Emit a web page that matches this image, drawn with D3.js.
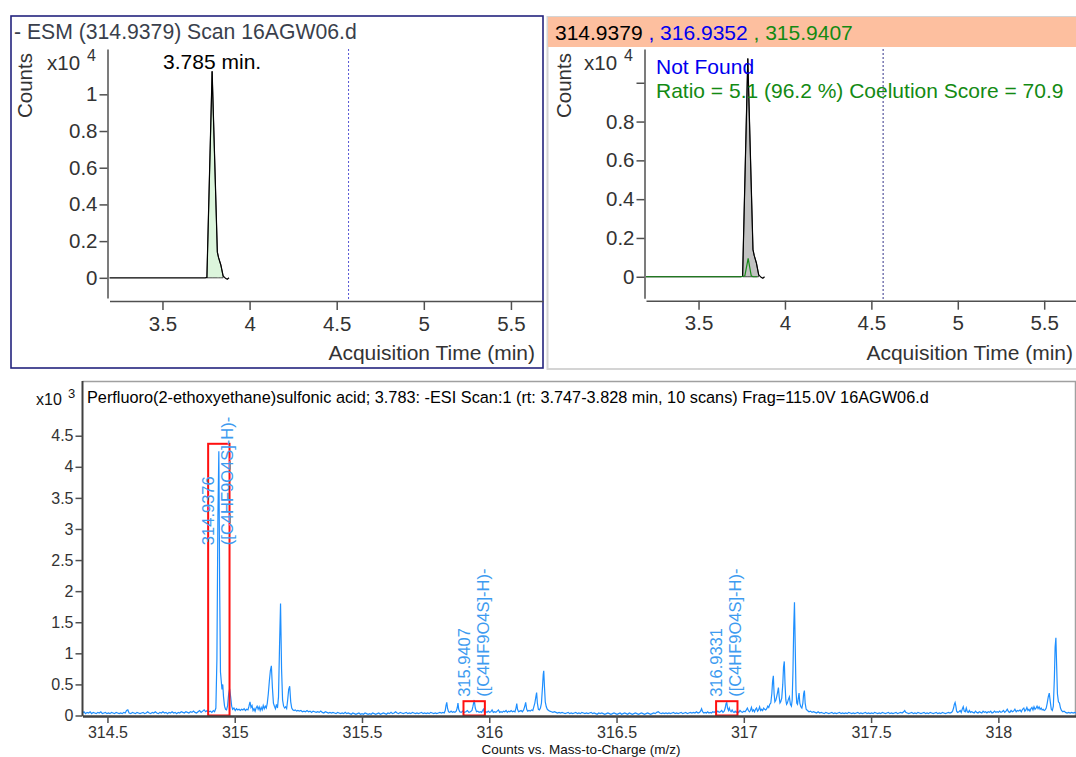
<!DOCTYPE html>
<html>
<head>
<meta charset="utf-8">
<script src="https://cdn.jsdelivr.net/npm/d3@7"></script>
<style>
  body { margin: 0; background: #fff; }
  svg { display: block; }
  text { font-family: "Liberation Sans", Arial, sans-serif; }
  .axis path, .axis line { stroke: #505050; stroke-width: 1.5; }
  .axis text { fill: #333; }
</style>
</head>
<body>
<svg id="main"></svg>
<script>
// chromatogram of target ion 314.9379 (counts x10^4)
var eicTime   = [3.196, 3.40, 3.60, 3.745, 3.755, 3.785, 3.815, 3.822, 3.835, 3.848, 3.862, 3.872, 3.882];
var eicCounts = [0,     0,    0,    0,     0.002, 1.125, 0.14,  0.11,  0.07,  0.01,  -0.003, -0.008, 0];
// qualifier 315.9407 trace (green)
var qualTime   = [3.196, 3.50, 3.745, 3.768, 3.787, 3.805, 3.815, 3.84];
var qualCounts = [0,     0,    0,     0.005, 0.095, 0.005, 0,     0];
var integStart = 3.752, integEnd = 3.849, rtMark = 4.568;
var timeTicks = [3.5, 4, 4.5, 5, 5.5];
var countTicks = [0, 0.2, 0.4, 0.6, 0.8, 1];

// spectrum: [m/z, counts x10^3]
var spectrum = [
[314.402,.04],[314.408,.06],[314.414,.03],[314.420,.05],[314.426,.04],[314.432,.06],[314.438,.03],[314.444,.05],
[314.450,.04],[314.456,.03],[314.462,.05],[314.468,.04],[314.474,.06],[314.480,.03],[314.486,.04],[314.492,.05],
[314.498,.03],[314.504,.04],[314.510,.03],[314.516,.05],[314.522,.04],[314.528,.03],[314.534,.05],[314.540,.04],
[314.546,.03],[314.552,.04],[314.558,.03],[314.564,.05],[314.570,.04],[314.575,.08],[314.580,.09],[314.585,.04],
[314.592,.03],[314.598,.05],[314.604,.04],[314.610,.03],[314.616,.05],[314.622,.04],[314.628,.03],[314.634,.04],
[314.640,.05],[314.646,.03],[314.652,.04],[314.658,.06],[314.664,.04],[314.670,.03],[314.676,.05],[314.682,.04],
[314.688,.06],[314.694,.04],[314.700,.03],[314.706,.05],[314.712,.04],[314.718,.06],[314.724,.04],[314.730,.05],
[314.736,.03],[314.742,.05],[314.748,.04],[314.754,.06],[314.760,.04],[314.766,.05],[314.772,.03],[314.778,.05],
[314.784,.04],[314.790,.06],[314.796,.05],[314.802,.04],[314.808,.06],[314.814,.05],[314.820,.04],[314.826,.06],
[314.832,.05],[314.838,.07],[314.844,.05],[314.850,.04],[314.856,.06],[314.862,.08],[314.868,.05],[314.874,.07],
[314.880,.09],[314.886,.06],[314.892,.08],[314.898,.06],[314.904,.07],[314.910,.05],[314.916,.08],[314.921,.06],
[314.926,.12],[314.930,.9],[314.934,3.2],[314.9376,4.25],[314.941,2.0],[314.944,.7],[314.947,.56],[314.950,.42],
[314.953,.5],[314.956,.3],[314.960,.15],[314.964,.1],[314.968,.09],[314.972,.16],[314.976,.34],[314.980,.43],
[314.984,.3],[314.988,.15],[314.992,.1],[314.997,.12],[315.002,.08],[315.007,.11],[315.012,.09],[315.017,.1],
[315.022,.08],[315.027,.1],[315.032,.09],[315.037,.11],[315.042,.08],[315.047,.1],[315.052,.09],[315.056,.15],
[315.060,.22],[315.064,.13],[315.068,.16],[315.072,.08],[315.076,.11],[315.080,.07],[315.084,.12],[315.088,.15],
[315.092,.1],[315.096,.14],[315.100,.08],[315.104,.13],[315.108,.09],[315.112,.16],[315.116,.11],[315.120,.15],
[315.124,.12],[315.128,.2],[315.132,.35],[315.136,.55],[315.140,.72],[315.144,.8],[315.148,.45],[315.152,.2],
[315.156,.15],[315.160,.11],[315.164,.18],[315.168,.12],[315.172,.3],[315.176,1.1],[315.180,1.8],[315.184,.75],
[315.188,.25],[315.192,.15],[315.196,.12],[315.200,.14],[315.204,.11],[315.208,.25],[315.212,.42],[315.216,.47],
[315.220,.22],[315.224,.12],[315.228,.09],[315.233,.08],[315.238,.09],[315.243,.07],[315.248,.08],[315.254,.07],
[315.260,.08],[315.266,.06],[315.272,.07],[315.278,.06],[315.284,.08],[315.290,.06],[315.296,.07],[315.302,.05],
[315.308,.07],[315.314,.06],[315.320,.05],[315.326,.06],[315.332,.05],[315.338,.07],[315.344,.05],[315.350,.04],
[315.356,.06],[315.362,.05],[315.368,.04],[315.374,.05],[315.380,.04],[315.386,.05],[315.392,.04],[315.398,.03],
[315.404,.05],[315.410,.04],[315.416,.03],[315.422,.04],[315.428,.03],[315.434,.05],[315.440,.03],[315.446,.04],
[315.452,.03],[315.458,.02],[315.464,.04],[315.470,.03],[315.476,.02],[315.482,.03],[315.488,.04],[315.494,.02],
[315.500,.03],[315.506,.02],[315.512,.04],[315.518,.03],[315.524,.02],[315.530,.03],[315.536,.02],[315.542,.04],
[315.548,.03],[315.554,.02],[315.560,.03],[315.566,.04],[315.572,.02],[315.578,.03],[315.584,.04],[315.590,.03],
[315.596,.02],[315.602,.04],[315.608,.03],[315.614,.05],[315.620,.03],[315.626,.04],[315.632,.06],[315.638,.04],
[315.644,.03],[315.650,.05],[315.656,.04],[315.662,.03],[315.668,.04],[315.674,.05],[315.680,.03],[315.686,.04],
[315.692,.03],[315.698,.05],[315.704,.04],[315.710,.03],[315.716,.04],[315.722,.03],[315.728,.04],[315.734,.05],
[315.740,.03],[315.746,.04],[315.752,.03],[315.758,.04],[315.764,.03],[315.770,.05],[315.776,.04],[315.782,.03],
[315.788,.04],[315.794,.03],[315.800,.04],[315.806,.05],[315.812,.04],[315.818,.05],[315.823,.04],[315.827,.08],
[315.830,.16],[315.833,.21],[315.836,.12],[315.840,.06],[315.845,.05],[315.850,.07],[315.855,.05],[315.860,.06],
[315.865,.05],[315.870,.07],[315.874,.12],[315.877,.2],[315.880,.1],[315.884,.06],[315.890,.05],[315.896,.07],
[315.902,.05],[315.908,.06],[315.914,.08],[315.920,.05],[315.926,.06],[315.932,.08],[315.936,.15],[315.941,.25],
[315.945,.12],[315.950,.06],[315.955,.07],[315.960,.05],[315.965,.06],[315.970,.05],[315.974,.08],[315.977,.1],
[315.981,.05],[315.986,.06],[315.991,.05],[315.996,.07],[316.001,.05],[316.006,.06],[316.011,.09],[316.016,.05],
[316.021,.06],[316.026,.05],[316.031,.07],[316.036,.09],[316.041,.05],[316.046,.06],[316.051,.05],[316.056,.07],
[316.061,.06],[316.066,.08],[316.071,.05],[316.076,.07],[316.081,.06],[316.086,.08],[316.091,.06],[316.096,.07],
[316.101,.06],[316.105,.12],[316.108,.19],[316.111,.1],[316.115,.06],[316.120,.07],[316.125,.08],[316.130,.06],
[316.135,.09],[316.139,.14],[316.143,.21],[316.147,.1],[316.151,.07],[316.156,.08],[316.161,.07],[316.166,.09],
[316.171,.08],[316.175,.14],[316.179,.2],[316.183,.3],[316.186,.37],[316.189,.2],[316.193,.1],[316.197,.09],
[316.201,.12],[316.205,.2],[316.209,.45],[316.212,.66],[316.214,.72],[316.217,.45],[316.220,.22],[316.224,.14],
[316.228,.1],[316.233,.08],[316.238,.07],[316.244,.06],[316.250,.05],[316.256,.06],[316.262,.05],[316.268,.04],
[316.274,.05],[316.280,.04],[316.286,.05],[316.292,.04],[316.298,.03],[316.304,.04],[316.310,.05],[316.316,.03],
[316.322,.04],[316.328,.03],[316.334,.04],[316.340,.05],[316.346,.03],[316.352,.04],[316.358,.03],[316.364,.05],
[316.370,.04],[316.376,.03],[316.382,.04],[316.388,.03],[316.394,.04],[316.400,.05],[316.406,.03],[316.412,.04],
[316.418,.03],[316.424,.02],[316.430,.04],[316.436,.03],[316.442,.04],[316.448,.03],[316.454,.02],[316.460,.03],
[316.466,.04],[316.472,.03],[316.478,.02],[316.484,.03],[316.490,.04],[316.496,.03],[316.502,.02],[316.508,.03],
[316.514,.04],[316.520,.02],[316.526,.03],[316.532,.04],[316.538,.03],[316.544,.02],[316.550,.04],[316.556,.03],
[316.562,.02],[316.568,.03],[316.574,.04],[316.580,.03],[316.586,.02],[316.592,.03],[316.598,.04],[316.604,.03],
[316.610,.02],[316.616,.03],[316.622,.04],[316.628,.03],[316.634,.02],[316.640,.03],[316.646,.04],[316.652,.03],
[316.658,.05],[316.664,.06],[316.670,.04],[316.676,.03],[316.682,.04],[316.688,.03],[316.694,.04],[316.700,.03],
[316.706,.04],[316.712,.03],[316.718,.04],[316.724,.05],[316.730,.03],[316.736,.04],[316.742,.03],[316.748,.04],
[316.754,.05],[316.760,.03],[316.766,.04],[316.772,.05],[316.778,.03],[316.784,.04],[316.790,.05],[316.796,.04],
[316.802,.05],[316.808,.04],[316.814,.06],[316.820,.04],[316.826,.05],[316.830,.07],[316.834,.11],[316.838,.06],
[316.843,.04],[316.848,.05],[316.853,.04],[316.858,.06],[316.863,.04],[316.868,.05],[316.873,.04],[316.878,.06],
[316.883,.05],[316.888,.06],[316.893,.05],[316.898,.07],[316.903,.05],[316.908,.06],[316.913,.08],[316.918,.05],
[316.923,.07],[316.927,.12],[316.930,.19],[316.933,.21],[316.936,.12],[316.940,.08],[316.943,.12],[316.946,.08],
[316.950,.06],[316.954,.09],[316.958,.06],[316.962,.05],[316.966,.07],[316.970,.05],[316.975,.06],[316.980,.05],
[316.985,.08],[316.990,.06],[316.995,.05],[317.000,.07],[317.005,.06],[317.010,.09],[317.014,.12],[317.018,.08],
[317.022,.06],[317.026,.08],[317.030,.13],[317.034,.07],[317.038,.09],[317.042,.06],[317.046,.1],[317.050,.12],
[317.054,.07],[317.058,.09],[317.062,.14],[317.066,.08],[317.070,.1],[317.074,.08],[317.078,.12],[317.082,.1],
[317.086,.09],[317.090,.11],[317.094,.15],[317.098,.13],[317.102,.18],[317.106,.2],[317.110,.35],[317.113,.55],
[317.116,.64],[317.119,.35],[317.122,.22],[317.126,.25],[317.129,.3],[317.133,.38],[317.136,.45],[317.139,.3],
[317.142,.2],[317.145,.22],[317.149,.28],[317.153,.5],[317.156,.78],[317.159,.87],[317.162,.5],[317.165,.25],
[317.168,.18],[317.171,.2],[317.175,.26],[317.179,.3],[317.183,.18],[317.187,.15],[317.190,.25],[317.193,.7],
[317.196,1.4],[317.199,1.82],[317.202,1.1],[317.205,.4],[317.208,.2],[317.211,.18],[317.214,.28],[317.217,.36],
[317.220,.2],[317.224,.14],[317.228,.12],[317.232,.2],[317.235,.35],[317.238,.4],[317.241,.2],[317.245,.1],
[317.250,.08],[317.256,.06],[317.262,.07],[317.268,.05],[317.274,.06],[317.280,.05],[317.286,.04],[317.292,.06],
[317.298,.04],[317.304,.05],[317.310,.04],[317.316,.03],[317.322,.05],[317.328,.04],[317.334,.03],[317.340,.04],
[317.346,.05],[317.352,.03],[317.358,.04],[317.364,.03],[317.370,.04],[317.376,.05],[317.382,.03],[317.388,.04],
[317.394,.03],[317.400,.04],[317.406,.03],[317.412,.05],[317.418,.04],[317.424,.03],[317.430,.04],[317.436,.03],
[317.442,.04],[317.448,.05],[317.454,.03],[317.460,.04],[317.466,.03],[317.472,.04],[317.478,.05],[317.484,.03],
[317.490,.04],[317.496,.03],[317.502,.04],[317.508,.03],[317.514,.05],[317.520,.04],[317.526,.03],[317.532,.04],
[317.538,.03],[317.544,.05],[317.550,.04],[317.556,.03],[317.562,.04],[317.568,.05],[317.574,.03],[317.580,.04],
[317.586,.03],[317.592,.04],[317.598,.05],[317.604,.03],[317.610,.04],[317.616,.05],[317.622,.04],[317.628,.06],
[317.632,.08],[317.636,.05],[317.642,.04],[317.648,.03],[317.654,.04],[317.660,.05],[317.666,.03],[317.672,.04],
[317.678,.03],[317.684,.05],[317.690,.04],[317.696,.03],[317.702,.04],[317.708,.05],[317.714,.03],[317.720,.04],
[317.726,.03],[317.732,.05],[317.738,.04],[317.744,.03],[317.750,.04],[317.756,.05],[317.762,.03],[317.768,.04],
[317.774,.03],[317.780,.05],[317.786,.04],[317.792,.03],[317.798,.04],[317.804,.05],[317.810,.04],[317.816,.05],
[317.820,.07],[317.824,.12],[317.827,.18],[317.830,.21],[317.833,.15],[317.836,.07],[317.840,.05],[317.845,.06],
[317.850,.08],[317.854,.05],[317.858,.1],[317.862,.14],[317.866,.07],[317.870,.06],[317.874,.12],[317.878,.06],
[317.882,.05],[317.886,.08],[317.890,.05],[317.895,.06],[317.900,.05],[317.905,.04],[317.910,.07],[317.915,.05],
[317.920,.04],[317.925,.06],[317.930,.05],[317.935,.04],[317.940,.07],[317.945,.05],[317.950,.06],[317.955,.04],
[317.960,.06],[317.965,.05],[317.970,.07],[317.975,.04],[317.980,.05],[317.985,.07],[317.990,.05],[317.995,.06],
[318.000,.05],[318.005,.07],[318.010,.05],[318.015,.06],[318.020,.08],[318.025,.05],[318.030,.07],[318.035,.1],
[318.040,.06],[318.045,.05],[318.050,.08],[318.055,.06],[318.060,.07],[318.065,.1],[318.070,.06],[318.075,.08],
[318.080,.07],[318.085,.09],[318.090,.06],[318.095,.1],[318.100,.12],[318.104,.07],[318.108,.09],[318.112,.13],
[318.116,.08],[318.120,.1],[318.124,.07],[318.128,.11],[318.132,.13],[318.136,.09],[318.140,.14],[318.144,.1],
[318.148,.12],[318.152,.15],[318.156,.11],[318.160,.14],[318.164,.1],[318.168,.12],[318.172,.09],[318.176,.1],
[318.180,.08],[318.184,.09],[318.188,.12],[318.192,.2],[318.196,.3],[318.200,.36],[318.204,.22],[318.208,.1],
[318.212,.08],[318.216,.15],[318.220,.6],[318.223,1.1],[318.226,1.25],[318.229,.8],[318.232,.35],[318.236,.22],
[318.240,.2],[318.244,.12],[318.248,.08],[318.253,.06],[318.258,.07],[318.264,.05],[318.270,.04],[318.276,.05],
[318.282,.04],[318.288,.05],[318.294,.04],[318.300,.05],[318.306,.04]
];
var ionMz = [314.9376, 315.9407, 316.9331];
var ionBoxTop = [4.37, 0.23, 0.23];
var ionLabelAt = [2.74, 0.30, 0.30];
var ionFormula = "([C4HF9O4S]-H)-";
var mzTicks = [314.5, 315, 315.5, 316, 316.5, 317, 317.5, 318];
var intTicks = [0, 0.5, 1, 1.5, 2, 2.5, 3, 3.5, 4, 4.5];

var w = 1076, h = 757;
var svg = d3.select("#main").attr("width", w).attr("height", h);

var eic = eicTime.map(function(t, i) { return [t, eicCounts[i]]; });
var qual = qualTime.map(function(t, i) { return [t, qualCounts[i]]; });
var integ = eic.filter(function(d) { return d[0] >= integStart && d[0] <= integEnd; });

function chromPanel(p) {
  var x = d3.scaleLinear().domain([3.196, 5.684]).range([p.x0, p.x1]);
  var y = d3.scaleLinear().domain(p.yDom).range([p.yBottom, 49]);

  var line = d3.line().x(function(d) { return x(d[0]); }).y(function(d) { return y(d[1]); });
  var area = d3.area().x(function(d) { return x(d[0]); }).y0(y(0)).y1(function(d) { return y(d[1]); });

  svg.append("path").datum(integ).attr("d", area).attr("fill", p.fill)
    .attr("stroke", "#222").attr("stroke-width", 0.8);
  svg.append("path").datum(eic).attr("d", line).attr("fill", "none")
    .attr("stroke", "#000").attr("stroke-width", 1.2);
  if (p.qual) {
    svg.append("path").datum(qual).attr("d", line).attr("fill", "none")
      .attr("stroke", "#1a8a1a").attr("stroke-width", 1.2);
  }

  svg.append("line")
    .attr("x1", x(rtMark)).attr("x2", x(rtMark)).attr("y1", 49).attr("y2", 300)
    .attr("stroke", p.markColor).attr("stroke-width", 1).attr("stroke-dasharray", "2,2");

  var yAxis = d3.axisLeft(y).tickValues(countTicks).tickSize(8).tickSizeOuter(0).tickPadding(2)
    .tickFormat(function(d) { return (p.hideTop && d === 1) ? "" : d; });
  svg.append("g").attr("class", "axis")
    .attr("transform", "translate(" + p.yAxisX + ",0)")
    .call(yAxis)
    .selectAll("text").style("font-size", "20.5px");

  var xAxis = d3.axisBottom(x).tickValues(timeTicks).tickSize(9).tickSizeOuter(0).tickPadding(6)
    .tickFormat(function(d) { return d; });
  var gx = svg.append("g").attr("class", "axis")
    .attr("transform", "translate(0," + p.xAxisY + ")")
    .call(xAxis);
  gx.selectAll("text").style("font-size", "20.5px");

  svg.append("text")
    .attr("transform", "translate(" + p.countsX + ",85.5) rotate(-90)")
    .attr("text-anchor", "middle").attr("fill", "#333").style("font-size", "20.5px")
    .text("Counts");
  svg.append("text").attr("x", p.x10X).attr("y", 70).attr("fill", "#333")
    .style("font-size", "20.5px").text("x10");
  svg.append("text").attr("x", p.x10X + 40).attr("y", 61).attr("fill", "#333")
    .style("font-size", "16px").text("4");

  svg.append("text")
    .attr("x", p.titleEnd).attr("y", 360).attr("text-anchor", "end").attr("fill", "#333")
    .style("font-size", "21px").text("Acquisition Time (min)");
  return { x: x, y: y };
}

// left panel
svg.append("rect").attr("x", 11).attr("y", 16).attr("width", 532).attr("height", 352)
  .attr("fill", "none").attr("stroke", "#23237e").attr("stroke-width", 1.6);
svg.append("text").attr("x", 14).attr("y", 39).attr("fill", "#3a3f4c")
  .style("font-size", "21.2px").text("- ESM (314.9379) Scan 16AGW06.d");
var left = chromPanel({
  x0: 109.5, x1: 543, yDom: [-0.11, 1.247], yBottom: 298, yAxisX: 107.5, xAxisY: 301,
  fill: "#dcf5dc", markColor: "#5555d5", hideTop: false, countsX: 31.5, x10X: 47, titleEnd: 535
});
var apex = eic[d3.maxIndex(eicCounts)];
svg.append("text")
  .attr("x", left.x(apex[0])).attr("y", left.y(apex[1]) - 2)
  .attr("text-anchor", "middle").attr("fill", "#000").style("font-size", "21px")
  .text(apex[0].toFixed(3) + " min.");

// right panel
svg.append("rect").attr("x", 547.5).attr("y", 17).attr("width", 530).attr("height", 352)
  .attr("fill", "none").attr("stroke", "#d4d4d4").attr("stroke-width", 2);
svg.append("rect").attr("x", 548).attr("y", 17).attr("width", 528).attr("height", 30)
  .attr("fill", "#fdbf9f");
var hdr = svg.append("text").attr("x", 555).attr("y", 39.5).style("font-size", "21px");
hdr.append("tspan").attr("fill", "#000").text("314.9379");
hdr.append("tspan").attr("fill", "#0000ee").text(" , 316.9352");
hdr.append("tspan").attr("fill", "#138a13").text(" , 315.9407");
chromPanel({
  x0: 646, x1: 1076, yDom: [-0.111, 1.174], yBottom: 298.3, yAxisX: 644.5, xAxisY: 300.7,
  fill: "#c2c2c2", markColor: "#33338a", hideTop: true, qual: true, countsX: 570.5, x10X: 584,
  titleEnd: 1073
});
svg.append("text").attr("x", 656).attr("y", 73.5).attr("fill", "#0000ee")
  .style("font-size", "21px").text("Not Found");
svg.append("text").attr("x", 656).attr("y", 97.5).attr("fill", "#138a13")
  .style("font-size", "21px").text("Ratio = 5.1 (96.2 %) Coelution Score = 70.9");

// spectrum panel
var xs = d3.scaleLinear().domain([314.402, 318.305]).range([82.5, 1076]);
var ys = d3.scaleLinear().domain([0, 5.38]).range([715.5, 381]);

svg.append("path")
  .attr("d", "M82.5,381.5H1075.5V716")
  .attr("fill", "none").attr("stroke", "#a0a0a0").attr("stroke-width", 1.5);

svg.append("defs").append("clipPath").attr("id", "specClip")
  .append("rect").attr("x", 83).attr("y", 382).attr("width", 993).attr("height", 334);

svg.append("path").datum(spectrum)
  .attr("clip-path", "url(#specClip)")
  .attr("d", d3.line().x(function(d) { return xs(d[0]); }).y(function(d) { return ys(d[1]); }))
  .attr("fill", "none").attr("stroke", "#1e8fff").attr("stroke-width", 1.2);

ionMz.forEach(function(mz, i) {
  svg.append("rect")
    .attr("x", xs(mz - 0.042)).attr("y", ys(ionBoxTop[i]))
    .attr("width", xs(mz + 0.042) - xs(mz - 0.042)).attr("height", ys(0) - ys(ionBoxTop[i]))
    .attr("fill", "none").attr("stroke", "#ff1010").attr("stroke-width", 2);
  var ly = ys(ionLabelAt[i]);
  svg.append("text")
    .attr("transform", "translate(" + (xs(mz) - 4.5) + "," + ly + ") rotate(-90)")
    .attr("fill", "#3d9bf0").style("font-size", "16.5px").text(mz.toFixed(4));
  svg.append("text")
    .attr("transform", "translate(" + (xs(mz) + 14.5) + "," + ly + ") rotate(-90)")
    .attr("fill", "#3d9bf0").style("font-size", "16.5px").text(ionFormula);
});

var yAxisS = d3.axisLeft(ys).tickValues(intTicks).tickSize(7).tickSizeOuter(0).tickPadding(2)
  .tickFormat(function(d) { return d; });
var gys = svg.append("g").attr("class", "axis").attr("transform", "translate(82.5,0)").call(yAxisS);
gys.select(".domain").attr("d", "M0,381V716").style("stroke", "#404040").style("stroke-width", 2);
gys.selectAll("text").style("font-size", "16px").attr("fill", "#111");

var xAxisS = d3.axisBottom(xs).tickValues(mzTicks).tickSize(7).tickSizeOuter(0).tickPadding(4)
  .tickFormat(function(d) { return d; });
var gxs = svg.append("g").attr("class", "axis").attr("transform", "translate(0,716)").call(xAxisS);
gxs.select(".domain").style("stroke", "#404040").style("stroke-width", 2.5);
gxs.selectAll("text").style("font-size", "16px").attr("fill", "#111");

svg.append("text").attr("x", 36).attr("y", 405).attr("fill", "#111")
  .style("font-size", "16px").text("x10");
svg.append("text").attr("x", 68).attr("y", 398).attr("fill", "#111")
  .style("font-size", "13px").text("3");
svg.append("text").attr("x", 87).attr("y", 403).attr("fill", "#000").style("font-size", "16.3px")
  .text("Perfluoro(2-ethoxyethane)sulfonic acid; 3.783: -ESI Scan:1 (rt: 3.747-3.828 min, 10 scans) Frag=115.0V 16AGW06.d");
svg.append("text").attr("x", 581).attr("y", 754).attr("text-anchor", "middle").attr("fill", "#111")
  .style("font-size", "13.5px").text("Counts vs. Mass-to-Charge (m/z)");
</script>
</body>
</html>
